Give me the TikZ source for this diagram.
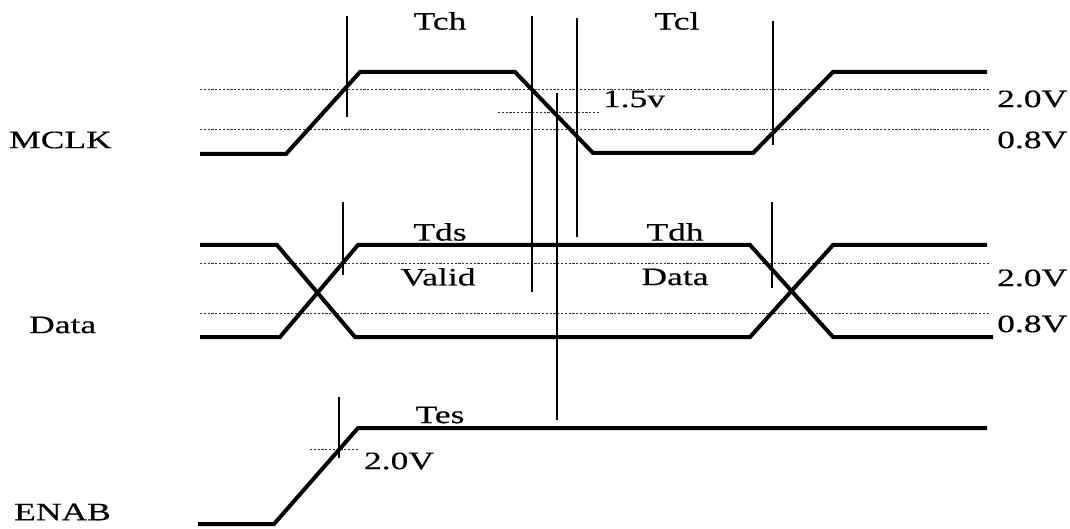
\documentclass[tikz,border=0pt]{standalone}
\usepackage{fontspec}
\setmainfont{Liberation Serif}[FakeStretch=1.42,FakeBold=0.4]
\begin{document}
\begin{tikzpicture}[x=1pt,y=-1pt,
  sig/.style={line width=4pt,line join=miter},
  tick/.style={line width=1.3pt},
  lvl/.style={line width=0.9pt,dash pattern=on 2.2pt off 1.6pt,black!80},
  lbl/.style={inner sep=0pt,font=\fontsize{25}{27}\selectfont}]
\useasboundingbox (0,0) rectangle (1070,529);
% level lines
\draw[lvl] (200,89) -- (990,89);
\draw[lvl] (200,129) -- (990,129);
\draw[lvl] (498,112) -- (600,112);
\draw[lvl] (200,263) -- (990,263);
\draw[lvl] (200,313) -- (990,313);
\draw[lvl] (310,449) -- (358,449);
% MCLK
\draw[sig] (200,154) -- (286,154) -- (360,72) -- (515,72) -- (593,153) -- (753,153) -- (833,72) -- (987,72);
% Data
\draw[sig] (200,245) -- (277,245) -- (355,337) -- (750,337) -- (833,245) -- (987,245);
\draw[sig] (200,337) -- (280,337) -- (358,245) -- (750,245) -- (833,337) -- (993,337);
% ENAB
\draw[sig] (198,524) -- (274,524) -- (358,428) -- (987,428);
% timing markers
\draw[tick] (347,16) -- (347,117);
\draw[tick] (532,16) -- (532,292);
\draw[tick] (557,93) -- (557,420);
\draw[tick] (577,18) -- (577,237);
\draw[tick] (773,21) -- (773,145);
\draw[tick] (343,202) -- (343,275);
\draw[tick] (772,202) -- (772,288);
\draw[tick] (339,397) -- (339,458);
% labels
\node[lbl,anchor=west] (mclk) at (9,140) {MCLK};
\node[lbl,anchor=west] (data) at (29,325) {Data};
\node[lbl,anchor=west] (enab) at (14,512) {ENAB};
\node[lbl] (tch) at (440,21) {Tch};
\node[lbl] (tcl) at (677,21) {Tcl};
\node[lbl] (v15) at (634,99) {1.5v};
\node[lbl,anchor=west] (m20) at (997,99) {2.0V};
\node[lbl,anchor=west] (m08) at (997,140) {0.8V};
\node[lbl] (tds) at (440,232) {Tds};
\node[lbl] (valid) at (438,277) {Valid};
\node[lbl] (tdh) at (675,232) {Tdh};
\node[lbl] (dtxt) at (675,277) {Data};
\node[lbl,anchor=west] (d20) at (997,278) {2.0V};
\node[lbl,anchor=west] (d08) at (997,324) {0.8V};
\node[lbl] (tes) at (440,415) {Tes};
\node[lbl] (e20) at (399,461) {2.0V};
\end{tikzpicture}
\end{document}
